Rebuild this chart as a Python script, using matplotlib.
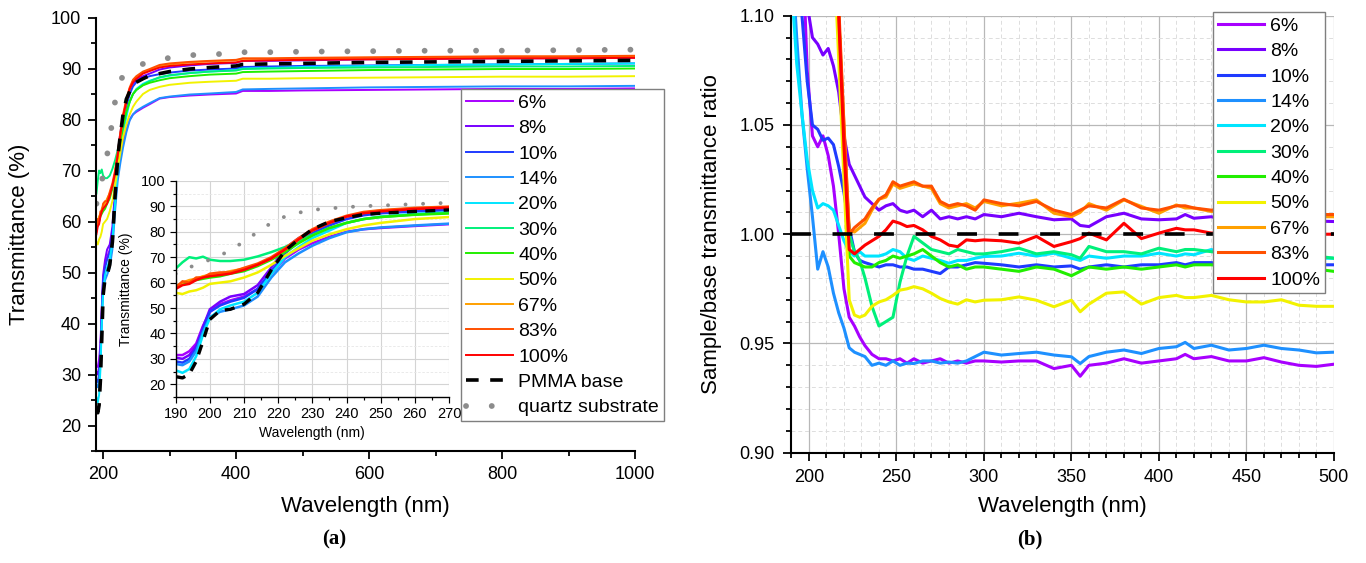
import matplotlib.pyplot as plt
from matplotlib.ticker import MultipleLocator, FormatStrFormatter

plt.rcParams['font.family'] = ['Liberation Sans', 'DejaVu Sans']

# etiquetas y colores de las muestras
labels = ['6%', '8%', '10%', '14%', '20%', '30%', '40%', '50%', '67%', '83%', '100%']
colors = ['#A800FF', '#7800FF', '#1F3BFF', '#1E90FF', '#00E5FF', '#00F07A',
          '#22EE00', '#F2F200', '#FFA000', '#FF5000', '#FF0000']

# ---- panel (a): transmitancia (%) ----
wl_a = [190, 192, 194, 196, 198, 200, 203, 206, 210, 214, 218, 222, 226, 230,
        235, 240, 245, 250, 260, 270, 285, 300, 330, 360, 400, 410, 450, 500,
        600, 700, 800, 900, 1000]

t6 = [31.5, 31.5, 33, 36, 43, 48.5, 51.5, 53, 54.5, 57.5, 63.5, 69.5, 73, 75.5,
      78, 80, 81, 81.5, 82.3, 83.0, 84.1, 84.4, 84.7, 84.9, 85.1, 85.6, 85.6,
      85.7, 85.8, 85.9, 86.0, 86.0, 86.1]
t8 = [30.5, 30, 31.5, 35, 42.5, 49.5, 52.5, 54.5, 55.5, 59, 66, 73.5, 77.5, 80.5,
      83, 85.5, 87, 87.8, 88.5, 89, 89.8, 90.2, 90.6, 90.9, 91.1, 91.5, 91.5,
      91.6, 91.8, 91.9, 92.0, 92.0, 92.1]
t10 = [29, 28.5, 30, 34, 41.5, 48.5, 51, 52.5, 54, 57.5, 64.5, 71.5, 76, 79.5,
       82.5, 85, 86.5, 87.3, 88, 88.5, 88.9, 89.2, 89.6, 89.8, 90.0, 90.3, 90.4,
       90.5, 90.6, 90.7, 90.8, 90.9, 91.0]
t14 = [28, 27.5, 29, 33, 40.5, 46.5, 48.5, 49.5, 51, 54.5, 62, 68, 71.5, 74.5,
       77.5, 79.8, 81, 81.7, 82.5, 83.2, 84.2, 84.5, 84.9, 85.1, 85.4, 85.9, 86.0,
       86.1, 86.3, 86.4, 86.5, 86.5, 86.6]
t20 = [25.5, 24.5, 26, 31, 39.5, 46, 49.5, 51, 52.5, 56, 63.5, 70, 74, 77.5,
       80.5, 83.5, 85, 86, 87, 87.6, 88.2, 88.6, 89.1, 89.4, 89.7, 90.0, 90.1,
       90.3, 90.5, 90.7, 90.8, 90.9, 91.0]
t30 = [65.5, 68, 70, 69.5, 70.2, 69, 68.5, 68.5, 69, 70.3, 72, 74, 76.5, 78.8,
       81.5, 83.5, 85, 85.8, 86.8, 87.5, 88.3, 88.7, 89.1, 89.4, 89.6, 89.9, 90.0,
       90.1, 90.2, 90.3, 90.4, 90.4, 90.5]
t40 = [58.5, 59.5, 60, 61, 61.5, 62, 62.5, 63.5, 64.5, 66.5, 69, 72, 75.5, 78.5,
       81.5, 83.5, 85, 85.8, 86.7, 87.2, 87.7, 88.1, 88.5, 88.8, 89.0, 89.3, 89.4,
       89.5, 89.7, 89.8, 89.9, 89.9, 90.0]
t50 = [56, 55.5, 56.5, 57, 58, 59.5, 60, 60.5, 62, 64, 67, 70.5, 73.5, 76.5,
       79, 81, 82.5, 83.5, 85, 85.8, 86.4, 86.8, 87.2, 87.4, 87.6, 88.0, 88.0,
       88.1, 88.2, 88.3, 88.4, 88.4, 88.5]
t67 = [58.5, 60, 61, 61.5, 62.5, 63, 63.5, 64.5, 65.5, 67, 69.5, 73, 77, 80.5,
       83.5, 86, 87.5, 88.3, 89.2, 89.7, 90.5, 90.8, 91.2, 91.4, 91.6, 91.9, 91.9,
       92.0, 92.1, 92.2, 92.3, 92.3, 92.4]
t83 = [58, 60.5, 60, 62, 62, 63.5, 64, 64, 65.8, 67.5, 70, 73.5, 77.5, 81,
       84, 86.3, 87.8, 88.5, 89.4, 89.9, 90.7, 91.0, 91.3, 91.5, 91.7, 92.0, 92.0,
       92.1, 92.2, 92.3, 92.4, 92.4, 92.5]
t100 = [57.5, 59, 59.5, 61, 62, 62.5, 63, 63.5, 65, 67, 69.5, 73, 77, 80.5,
        83.5, 86, 87.3, 88, 89, 89.5, 90.2, 90.5, 90.8, 91.0, 91.2, 91.5, 91.6,
        91.7, 91.8, 91.9, 92.0, 92.0, 92.1]
t_pmma = [23, 22.5, 24, 29, 37, 45.5, 49, 49.5, 51.5, 56, 65, 72.5, 77, 81,
          84, 85.5, 86.8, 87.3, 88, 88.6, 89.0, 89.4, 89.9, 90.2, 90.5, 90.8, 90.9,
          91.0, 91.2, 91.3, 91.4, 91.5, 91.6]
t_quartz = [63.5, 65, 66, 67, 68, 69, 70.5, 73, 76, 80, 83.5, 86, 87.5, 88.6,
            89.2, 89.7, 90.1, 90.3, 90.9, 91.4, 91.7, 92.1, 92.6, 92.8, 92.9, 93.2,
            93.2, 93.3, 93.4, 93.5, 93.5, 93.6, 93.7]

series_a = [t6, t8, t10, t14, t20, t30, t40, t50, t67, t83, t100]

# ---- panel (b): cociente muestra/base ----
wl_b = [190, 193, 196, 199, 202, 205, 208, 211, 214, 217, 220, 223, 226, 229,
        232, 236, 240, 244, 248, 252, 256, 260, 265, 270, 275, 280, 285, 290,
        295, 300, 310, 320, 330, 340, 350, 355, 360, 370, 380, 390, 400, 410,
        415, 420, 430, 440, 450, 460, 470, 480, 490, 500]

r6 = [1.25, 1.18, 1.14, 1.075, 1.045, 1.040, 1.045, 1.036, 1.022, 1.000,
      0.975, 0.962, 0.958, 0.953, 0.949, 0.945, 0.943, 0.943, 0.942, 0.943,
      0.941, 0.943, 0.941, 0.942, 0.943, 0.941, 0.942, 0.941, 0.942, 0.942,
      0.9415, 0.942, 0.942, 0.9385, 0.940, 0.935, 0.940, 0.941, 0.943, 0.941,
      0.942, 0.943, 0.945, 0.943, 0.944, 0.942, 0.942, 0.9435, 0.9415, 0.940,
      0.9395, 0.9405]
r8 = [1.30, 1.22, 1.15, 1.105, 1.090, 1.087, 1.082, 1.085, 1.077, 1.065,
      1.045, 1.032, 1.027, 1.022, 1.017, 1.014, 1.011, 1.013, 1.014, 1.011,
      1.010, 1.011, 1.008, 1.011, 1.007, 1.008, 1.007, 1.008, 1.007, 1.009,
      1.008, 1.0096, 1.008, 1.0066, 1.007, 1.004, 1.0035, 1.008, 1.0096, 1.007,
      1.0066, 1.007, 1.009, 1.0073, 1.008, 1.006, 1.008, 1.007, 1.008, 1.007,
      1.006, 1.0058]
r10 = [1.20, 1.15, 1.10, 1.07, 1.050, 1.048, 1.043, 1.044, 1.041, 1.031,
       1.019, 1.003, 0.992, 0.988, 0.987, 0.986, 0.985, 0.986, 0.986, 0.985,
       0.985, 0.984, 0.984, 0.983, 0.982, 0.985, 0.985, 0.986, 0.987, 0.9867,
       0.986, 0.985, 0.986, 0.985, 0.9855, 0.984, 0.985, 0.986, 0.985, 0.986,
       0.986, 0.987, 0.986, 0.987, 0.987, 0.986, 0.986, 0.987, 0.986, 0.985,
       0.986, 0.986]
r14 = [1.13, 1.09, 1.055, 1.030, 1.008, 0.984, 0.992, 0.985, 0.973, 0.964,
       0.957, 0.948, 0.946, 0.945, 0.944, 0.940, 0.941, 0.940, 0.942, 0.940,
       0.941, 0.9408, 0.942, 0.942, 0.941, 0.9415, 0.941, 0.942, 0.944, 0.946,
       0.9447, 0.9454, 0.946, 0.9447, 0.9439, 0.9408, 0.944, 0.946, 0.947, 0.9454,
       0.9477, 0.9485, 0.9505, 0.9477, 0.9492, 0.947, 0.9477, 0.9492, 0.9477, 0.947,
       0.9457, 0.946]
r20 = [1.115, 1.078, 1.055, 1.034, 1.020, 1.012, 1.014, 1.013, 1.011, 1.004,
       0.997, 0.992, 0.990, 0.992, 0.990, 0.990, 0.990, 0.991, 0.993, 0.992,
       0.989, 0.988, 0.990, 0.989, 0.988, 0.9867, 0.988, 0.988, 0.989, 0.9898,
       0.990, 0.9913, 0.990, 0.9913, 0.989, 0.988, 0.990, 0.989, 0.990, 0.990,
       0.9913, 0.990, 0.991, 0.9906, 0.993, 0.990, 0.990, 0.991, 0.990, 0.990,
       0.989, 0.989]
r30 = [1.40, 1.36, 1.32, 1.29, 1.26, 1.23, 1.21, 1.18, 1.15, 1.10,
       1.045, 1.000, 0.992, 0.988, 0.980, 0.967, 0.958, 0.960, 0.962, 0.978,
       0.990, 0.999, 0.996, 0.993, 0.992, 0.991, 0.993, 0.992, 0.991, 0.991,
       0.992, 0.9936, 0.991, 0.992, 0.9906, 0.989, 0.9944, 0.992, 0.992, 0.991,
       0.9936, 0.992, 0.993, 0.993, 0.992, 0.991, 0.992, 0.991, 0.990, 0.990,
       0.990, 0.989]
r40 = [1.40, 1.36, 1.32, 1.29, 1.26, 1.23, 1.21, 1.18, 1.15, 1.10,
       1.040, 0.990, 0.987, 0.986, 0.985, 0.985, 0.987, 0.988, 0.990, 0.989,
       0.990, 0.991, 0.993, 0.990, 0.987, 0.985, 0.986, 0.984, 0.985, 0.985,
       0.984, 0.983, 0.985, 0.984, 0.981, 0.983, 0.985, 0.984, 0.985, 0.984,
       0.985, 0.986, 0.985, 0.986, 0.986, 0.985, 0.986, 0.985, 0.986, 0.985,
       0.984, 0.983]
r50 = [1.38, 1.34, 1.30, 1.27, 1.24, 1.22, 1.20, 1.17, 1.135, 1.080,
       1.025, 0.970, 0.963, 0.962, 0.963, 0.967, 0.969, 0.970, 0.972, 0.9744,
       0.975, 0.976, 0.975, 0.973, 0.9706, 0.969, 0.968, 0.970, 0.969, 0.9698,
       0.970, 0.9713, 0.9698, 0.9668, 0.9698, 0.9645, 0.968, 0.973, 0.9736, 0.968,
       0.971, 0.972, 0.971, 0.971, 0.972, 0.970, 0.969, 0.969, 0.970, 0.9675,
       0.967, 0.967]
r67 = [1.40, 1.36, 1.32, 1.29, 1.26, 1.23, 1.21, 1.18, 1.15, 1.10,
       1.050, 1.002, 1.001, 1.003, 1.005, 1.011, 1.016, 1.017, 1.023, 1.021,
       1.022, 1.023, 1.022, 1.021, 1.014, 1.012, 1.013, 1.014, 1.012, 1.015,
       1.013, 1.0142, 1.0157, 1.0096, 1.008, 1.010, 1.014, 1.011, 1.0157, 1.0127,
       1.0096, 1.0134, 1.012, 1.012, 1.0104, 1.011, 1.010, 1.009, 1.009, 1.008,
       1.008, 1.008]
r83 = [1.41, 1.37, 1.33, 1.30, 1.27, 1.24, 1.22, 1.19, 1.16, 1.105,
       1.050, 1.000, 1.003, 1.005, 1.007, 1.012, 1.016, 1.018, 1.024, 1.022,
       1.023, 1.024, 1.022, 1.022, 1.015, 1.013, 1.014, 1.013, 1.011, 1.0157,
       1.014, 1.013, 1.015, 1.011, 1.009, 1.011, 1.013, 1.012, 1.016, 1.012,
       1.011, 1.013, 1.013, 1.012, 1.011, 1.012, 1.011, 1.010, 1.010, 1.009,
       1.009, 1.009]
r100 = [1.41, 1.37, 1.33, 1.30, 1.27, 1.24, 1.22, 1.19, 1.16, 1.10,
        1.040, 0.993, 0.991, 0.993, 0.995, 0.997, 0.999, 1.002, 1.006, 1.005,
        1.0035, 1.004, 1.002, 0.999, 0.9974, 0.995, 0.9943, 0.9974, 0.997, 0.9974,
        0.997, 0.9959, 0.999, 0.9944, 0.9966, 0.998, 1.0005, 0.9974, 1.005, 0.998,
        1.0005, 1.0027, 1.002, 1.002, 1.0005, 1.001, 1.000, 1.001, 1.000, 1.001,
        1.000, 1.000]
wl_base = [190, 500]
r_base = [1.0, 1.0]

series_b = [r6, r8, r10, r14, r20, r30, r40, r50, r67, r83, r100]

fig = plt.figure(figsize=(13.66, 5.63), dpi=100)


def estilo_ejes(ax, lw=1.5, size=12.5, major=6, minor=3.5, pad=5):
    # solo ejes izquierdo e inferior, ticks hacia fuera
    ax.spines[['top', 'right']].set_visible(False)
    for s in ['left', 'bottom']:
        ax.spines[s].set_linewidth(lw)
    ax.tick_params(which='both', direction='out', width=lw * 0.85,
                   labelsize=size, pad=pad)
    ax.tick_params(which='major', length=major)
    ax.tick_params(which='minor', length=minor)


# ---------- panel (a) ----------
ax1 = fig.add_axes([0.0706, 0.1989, 0.3943, 0.7700])
for vals, lab, col in zip(series_a, labels, colors):
    ax1.plot(wl_a, vals, color=col, lw=1.4, label=lab)
ax1.plot(wl_a, t_pmma, color='black', lw=2.6, ls=(0, (3.5, 3.2)),
         label='PMMA base')
ax1.plot(wl_a, t_quartz, color='#8c8c8c', lw=4.2, ls=(0, (0.01, 4.4)),
         dash_capstyle='round', label='quartz substrate')
ax1.set_xlim(190, 1000)
ax1.set_ylim(15, 100)
ax1.xaxis.set_major_locator(MultipleLocator(200))
ax1.xaxis.set_minor_locator(MultipleLocator(100))
ax1.yaxis.set_major_locator(MultipleLocator(10))
ax1.yaxis.set_minor_locator(MultipleLocator(5))
estilo_ejes(ax1, size=13)
ax1.set_xlabel('Wavelength (nm)', fontsize=16)
ax1.set_ylabel('Transmittance (%)', fontsize=16)
ax1.xaxis.set_label_coords(0.5, -0.129)
ax1.xaxis.label.set_va('center')
ax1.yaxis.set_label_coords(-0.142, 0.5)
ax1.yaxis.label.set_va('center')

leg1 = ax1.legend(loc='upper left', bbox_to_anchor=(0.3375, 0.8414),
                  bbox_transform=fig.transFigure, fontsize=14, fancybox=False,
                  edgecolor='#7f7f7f', framealpha=1, borderpad=0.25,
                  labelspacing=0.4, handlelength=2.4, handletextpad=0.3,
                  borderaxespad=0)
leg1.get_frame().set_linewidth(1.0)

# recuadro con el detalle 190-270 nm
axin = fig.add_axes([0.1286, 0.2949, 0.2001, 0.3837])
for vals, col in zip(series_a, colors):
    axin.plot(wl_a, vals, color=col, lw=1.8)
axin.plot(wl_a, t_pmma, color='black', lw=2.4, ls=(0, (3, 2.5)))
axin.plot(wl_a, t_quartz, color='#8c8c8c', lw=2.8, ls=(0, (0.01, 4.5)),
          dash_capstyle='round')
axin.set_xlim(190, 270)
axin.set_ylim(15, 100)
axin.xaxis.set_major_locator(MultipleLocator(10))
axin.xaxis.set_minor_locator(MultipleLocator(5))
axin.yaxis.set_major_locator(MultipleLocator(10))
axin.yaxis.set_minor_locator(MultipleLocator(5))
axin.grid(which='major', color='#d4d4d4', lw=0.8)
axin.grid(which='minor', axis='y', color='#e6e6e6', lw=0.6, ls=(0, (3, 2)))
axin.set_axisbelow(True)
estilo_ejes(axin, lw=1.0, size=10.5, major=4, minor=2, pad=3)
axin.set_xlabel('Wavelength (nm)', fontsize=10)
axin.set_ylabel('Transmittance (%)', fontsize=10)
axin.xaxis.set_label_coords(0.5, -0.167)
axin.xaxis.label.set_va('center')
axin.yaxis.set_label_coords(-0.182, 0.5)
axin.yaxis.label.set_va('center')

# ---------- panel (b) ----------
ax2 = fig.add_axes([0.5794, 0.1959, 0.3971, 0.7762])
for vals, lab, col in zip(series_b, labels, colors):
    ax2.plot(wl_b, vals, color=col, lw=2.2, label=lab)
ax2.plot(wl_base, r_base, color='black', lw=2.6, ls=(0, (5.5, 6)))
ax2.set_xlim(190, 500)
ax2.set_ylim(0.90, 1.10)
ax2.xaxis.set_major_locator(MultipleLocator(50))
ax2.xaxis.set_minor_locator(MultipleLocator(10))
ax2.yaxis.set_major_locator(MultipleLocator(0.05))
ax2.yaxis.set_minor_locator(MultipleLocator(0.01))
ax2.yaxis.set_major_formatter(FormatStrFormatter('%.2f'))
ax2.grid(which='major', color='#b8b8b8', lw=0.9)
ax2.grid(which='minor', color='#dddddd', lw=0.7, ls=(0, (4, 3)))
ax2.set_axisbelow(True)
estilo_ejes(ax2, size=13, pad=6)
ax2.set_xlabel('Wavelength (nm)', fontsize=16)
ax2.set_ylabel('Sample/base transmittance ratio', fontsize=16)
ax2.xaxis.set_label_coords(0.5, -0.124)
ax2.xaxis.label.set_va('center')
ax2.yaxis.set_label_coords(-0.1465, 0.5)
ax2.yaxis.label.set_va('center')

leg2 = ax2.legend(loc='upper left', bbox_to_anchor=(0.8878, 0.9782),
                  bbox_transform=fig.transFigure, fontsize=14, fancybox=False,
                  edgecolor='#7f7f7f', framealpha=1, borderpad=0.25,
                  labelspacing=0.4, handlelength=2.4, handletextpad=0.3,
                  borderaxespad=0)
leg2.get_frame().set_linewidth(1.0)

# letras de los paneles
fig.text(334.5 / 1366, 1 - 539 / 563, '(a)', ha='center', va='center',
         fontsize=15, family='Liberation Serif', weight='bold')
fig.text(1030 / 1366, 1 - 539 / 563, '(b)', ha='center', va='center',
         fontsize=15, family='Liberation Serif', weight='bold')

plt.savefig('out.png', dpi=100)
